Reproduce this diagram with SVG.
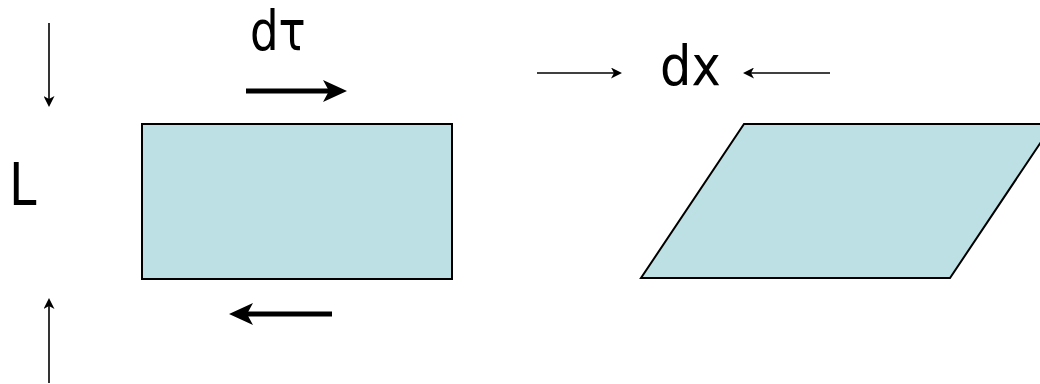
<svg xmlns="http://www.w3.org/2000/svg" width="1040" height="384" viewBox="0 0 1040 384">
<defs>
<style>
.shape{fill:#bce0e3;stroke:#000;stroke-width:2}
.thin{stroke:#000;stroke-width:1.6;fill:none}
.thick{stroke:#000;stroke-width:5;fill:none}
.lbl{font-family:"DejaVu Sans","Liberation Sans",sans-serif;fill:#000}
</style>
<marker id="ah" viewBox="0 0 11 11" refX="5" refY="5.5" markerWidth="11" markerHeight="11" markerUnits="userSpaceOnUse" orient="auto">
<path d="M0,0 L11,5.5 L0,11 L3,5.5 Z" fill="#000"/>
</marker>
<marker id="ahb" viewBox="0 0 24 22" refX="12" refY="11" markerWidth="24" markerHeight="22" markerUnits="userSpaceOnUse" orient="auto">
<path d="M0,0 L24,11 L0,22 L6,11 Z" fill="#000"/>
</marker>
</defs>
<g id="connectors">
<line class="thin" x1="49" y1="23" x2="49" y2="101" marker-end="url(#ah)"/>
<line class="thin" x1="49" y1="383" x2="49" y2="304" marker-end="url(#ah)"/>
<line class="thick" x1="246" y1="91" x2="335" y2="91" marker-end="url(#ahb)"/>
<line class="thick" x1="332" y1="314" x2="241" y2="314" marker-end="url(#ahb)"/>
<line class="thin" x1="537" y1="73" x2="616" y2="73" marker-end="url(#ah)"/>
<line class="thin" x1="830" y1="73" x2="749" y2="73" marker-end="url(#ah)"/>
</g>
<g id="rect-node">
<rect class="shape" x="142" y="124" width="310" height="155"/>
</g>
<g id="parallelogram-node">
<polygon class="shape" points="744,124 1053,124 950,278 641,278"/>
</g>
<g id="label-dtau"><text class="lbl" transform="translate(250,50) scale(0.82,1)" x="0" y="0" style="font-size:55px">dτ</text></g>
<g id="label-L"><text class="lbl" transform="translate(9,205) scale(0.85,1)" x="0" y="0" style="font-size:58px">L</text></g>
<g id="label-dx"><text class="lbl" transform="translate(660,85) scale(0.9,1)" x="0" y="0" style="font-size:55px">dx</text></g>
</svg>
